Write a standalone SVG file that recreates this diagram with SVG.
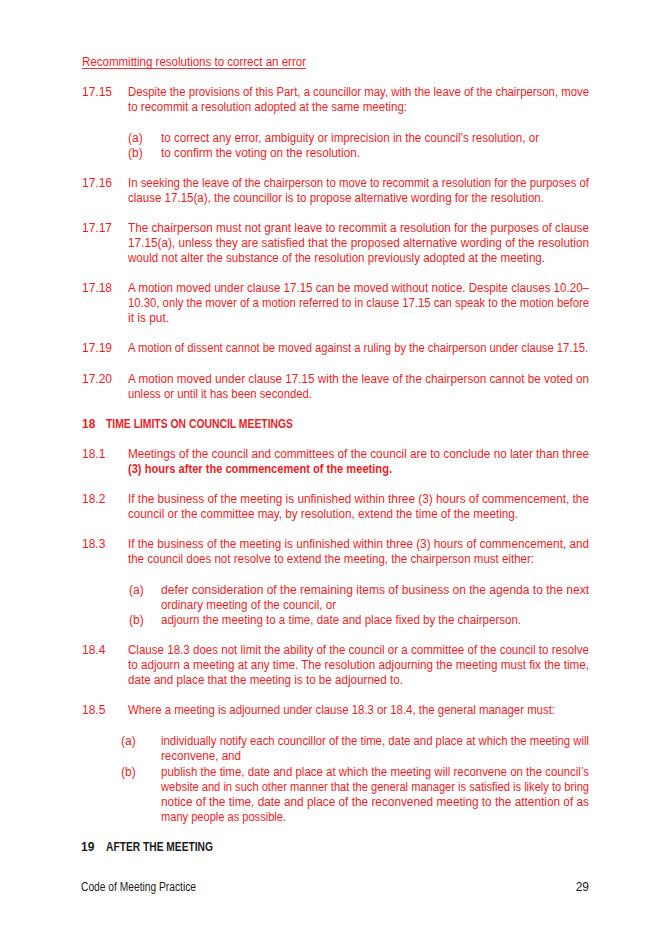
<svg xmlns="http://www.w3.org/2000/svg" width="651" height="928" viewBox="0 0 651 928">
<style>
text{font-family:"Liberation Sans",Arial,sans-serif;font-size:12px;fill:#f01c24}
.b{font-weight:bold}
.k{fill:#1a1a1a}
</style>
<rect width="651" height="928" fill="#fff"/>
<g id="sec17">
<text x="82" y="66" textLength="224" lengthAdjust="spacingAndGlyphs">Recommitting resolutions to correct an error</text>
<line x1="82" y1="68.5" x2="306" y2="68.5" stroke="#f01c24" stroke-width="0.9"/>
<text x="82" y="96">17.15</text>
<text x="128" y="96" textLength="461" lengthAdjust="spacingAndGlyphs">Despite the provisions of this Part, a councillor may, with the leave of the chairperson, move</text>
<text x="128" y="111" textLength="279" lengthAdjust="spacingAndGlyphs">to recommit a resolution adopted at the same meeting:</text>
<text x="128" y="142">(a)</text>
<text x="161" y="142" textLength="378" lengthAdjust="spacingAndGlyphs">to correct any error, ambiguity or imprecision in the council’s resolution, or</text>
<text x="128" y="157">(b)</text>
<text x="161" y="157" textLength="199" lengthAdjust="spacingAndGlyphs">to confirm the voting on the resolution.</text>
<text x="82" y="187">17.16</text>
<text x="128" y="187" textLength="461" lengthAdjust="spacingAndGlyphs">In seeking the leave of the chairperson to move to recommit a resolution for the purposes of</text>
<text x="128" y="202" textLength="416" lengthAdjust="spacingAndGlyphs">clause 17.15(a), the councillor is to propose alternative wording for the resolution.</text>
<text x="82" y="232">17.17</text>
<text x="128" y="232" textLength="461" lengthAdjust="spacingAndGlyphs">The chairperson must not grant leave to recommit a resolution for the purposes of clause</text>
<text x="128" y="247" textLength="461" lengthAdjust="spacingAndGlyphs">17.15(a), unless they are satisfied that the proposed alternative wording of the resolution</text>
<text x="128" y="262" textLength="417" lengthAdjust="spacingAndGlyphs">would not alter the substance of the resolution previously adopted at the meeting.</text>
<text x="82" y="292">17.18</text>
<text x="128" y="292" textLength="461" lengthAdjust="spacingAndGlyphs">A motion moved under clause 17.15 can be moved without notice. Despite clauses 10.20–</text>
<text x="128" y="307" textLength="461" lengthAdjust="spacingAndGlyphs">10.30, only the mover of a motion referred to in clause 17.15 can speak to the motion before</text>
<text x="128" y="322" textLength="41" lengthAdjust="spacingAndGlyphs">it is put.</text>
<text x="82" y="352">17.19</text>
<text x="128" y="352" textLength="460" lengthAdjust="spacingAndGlyphs">A motion of dissent cannot be moved against a ruling by the chairperson under clause 17.15.</text>
<text x="82" y="383">17.20</text>
<text x="128" y="383" textLength="461" lengthAdjust="spacingAndGlyphs">A motion moved under clause 17.15 with the leave of the chairperson cannot be voted on</text>
<text x="128" y="398" textLength="184" lengthAdjust="spacingAndGlyphs">unless or until it has been seconded.</text>
</g>
<g id="sec18">
<text x="82" y="428" class="b">18</text>
<text x="106" y="428" class="b" textLength="187" lengthAdjust="spacingAndGlyphs">TIME LIMITS ON COUNCIL MEETINGS</text>
<text x="82" y="458">18.1</text>
<text x="128" y="458" textLength="461" lengthAdjust="spacingAndGlyphs">Meetings of the council and committees of the council are to conclude no later than three</text>
<text x="128" y="473" class="b" textLength="264" lengthAdjust="spacingAndGlyphs">(3) hours after the commencement of the meeting.</text>
<text x="82" y="503">18.2</text>
<text x="128" y="503" textLength="461" lengthAdjust="spacingAndGlyphs">If the business of the meeting is unfinished within three (3) hours of commencement, the</text>
<text x="128" y="518" textLength="390" lengthAdjust="spacingAndGlyphs">council or the committee may, by resolution, extend the time of the meeting.</text>
<text x="82" y="548">18.3</text>
<text x="128" y="548" textLength="461" lengthAdjust="spacingAndGlyphs">If the business of the meeting is unfinished within three (3) hours of commencement, and</text>
<text x="128" y="563" textLength="406" lengthAdjust="spacingAndGlyphs">the council does not resolve to extend the meeting, the chairperson must either:</text>
<text x="129" y="594">(a)</text>
<text x="161" y="594" textLength="428" lengthAdjust="spacingAndGlyphs">defer consideration of the remaining items of business on the agenda to the next</text>
<text x="161" y="609" textLength="175" lengthAdjust="spacingAndGlyphs">ordinary meeting of the council, or</text>
<text x="129" y="624">(b)</text>
<text x="161" y="624" textLength="360" lengthAdjust="spacingAndGlyphs">adjourn the meeting to a time, date and place fixed by the chairperson.</text>
<text x="82" y="654">18.4</text>
<text x="128" y="654" textLength="461" lengthAdjust="spacingAndGlyphs">Clause 18.3 does not limit the ability of the council or a committee of the council to resolve</text>
<text x="128" y="669" textLength="461" lengthAdjust="spacingAndGlyphs">to adjourn a meeting at any time. The resolution adjourning the meeting must fix the time,</text>
<text x="128" y="684" textLength="275" lengthAdjust="spacingAndGlyphs">date and place that the meeting is to be adjourned to.</text>
<text x="82" y="714">18.5</text>
<text x="128" y="714" textLength="427" lengthAdjust="spacingAndGlyphs">Where a meeting is adjourned under clause 18.3 or 18.4, the general manager must:</text>
<text x="121" y="745">(a)</text>
<text x="161" y="745" textLength="428" lengthAdjust="spacingAndGlyphs">individually notify each councillor of the time, date and place at which the meeting will</text>
<text x="161" y="760" textLength="80" lengthAdjust="spacingAndGlyphs">reconvene, and</text>
<text x="121" y="776">(b)</text>
<text x="161" y="776" textLength="428" lengthAdjust="spacingAndGlyphs">publish the time, date and place at which the meeting will reconvene on the council’s</text>
<text x="161" y="791" textLength="428" lengthAdjust="spacingAndGlyphs">website and in such other manner that the general manager is satisfied is likely to bring</text>
<text x="161" y="806" textLength="428" lengthAdjust="spacingAndGlyphs">notice of the time, date and place of the reconvened meeting to the attention of as</text>
<text x="161" y="821" textLength="125" lengthAdjust="spacingAndGlyphs">many people as possible.</text>
</g>
<g id="sec19">
<text x="81" y="851" class="b k">19</text>
<text x="106" y="851" class="b k" textLength="107" lengthAdjust="spacingAndGlyphs">AFTER THE MEETING</text>
</g>
<g id="footer">
<text x="81" y="891" class="k" textLength="115" lengthAdjust="spacingAndGlyphs">Code of Meeting Practice</text>
<text x="589" y="891" class="k" text-anchor="end">29</text>
</g>
<g id="connectors"/>
</svg>
